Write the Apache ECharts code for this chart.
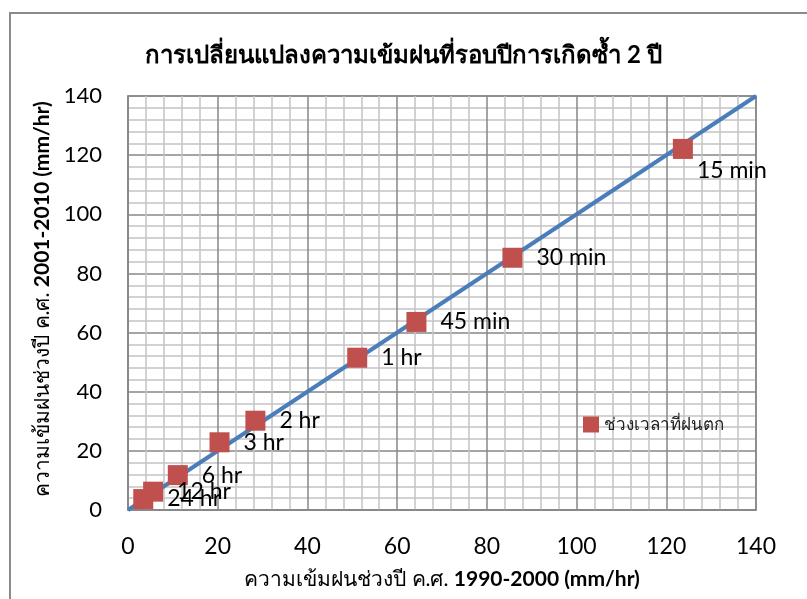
<!DOCTYPE html>
<html>
<head>
<meta charset="utf-8">
<script src="https://cdn.jsdelivr.net/npm/echarts@6/dist/echarts.min.js"></script>
<style>
  html, body { margin: 0; padding: 0; background: #fff; }
  #chart { width: 807px; height: 599px; }
</style>
</head>
<body>
<div id="chart"></div>
<script>
// Rainfall duration labels and intensities (mm/hr) for the two periods
const durations = ['15 min', '30 min', '45 min', '1 hr', '2 hr', '3 hr', '6 hr', '12 hr', '24 hr'];
const period1990_2000 = [123.7, 85.7, 64.3, 51.1, 28.4, 20.4, 11.1, 5.6, 3.4];
const period2001_2010 = [122.1, 85.3, 63.6, 51.5, 30.2, 22.9, 11.8, 6.2, 3.7];

// 1:1 reference line end points
const refLineX = [0, 140];
const refLineY = [0, 140];

const axisTicks = [0, 20, 40, 60, 80, 100, 120, 140];

const titleText = 'การเปลี่ยนแปลงความเข้มฝนที่รอบปีการเกิดซ้ำ 2 ปี';
const legendName = 'ช่วงเวลาที่ฝนตก';

const latin = 'Lato, "Open Sans", sans-serif';

const scatterData = durations.map((d, i) => {
  const item = { name: d, value: [period1990_2000[i], period2001_2010[i]] };
  if (d === '15 min') {
    item.label = { offset: [-10, 22] };
  }
  return item;
});

const lineData = refLineX.map((x, i) => [x, refLineY[i]]);

const majorLine = { show: true, lineStyle: { color: '#878787', width: 1.5 } };
const minorLine = { show: true, lineStyle: { color: '#c3c3c3', width: 1.5 } };

function axisCommon(extra) {
  return Object.assign({
    type: 'value',
    min: axisTicks[0],
    max: axisTicks[axisTicks.length - 1],
    interval: axisTicks[1] - axisTicks[0],
    axisLine: { show: true, onZero: false, lineStyle: { color: '#878787', width: 1.5 } },
    axisTick: { show: false },
    minorTick: { show: false, splitNumber: 5 },
    splitLine: majorLine,
    minorSplitLine: minorLine
  }, extra);
}

const nameRich = {
  n: { fontSize: 21, color: '#000', fontFamily: latin },
  b: { fontSize: 21, fontWeight: 'bold', color: '#000', fontFamily: latin }
};

const chart = echarts.init(document.getElementById('chart'), null, { renderer: 'canvas' });

chart.setOption({
  backgroundColor: '#ffffff',
  animation: false,
  title: {
    text: titleText,
    left: 'center',
    top: 38,
    textStyle: { fontSize: 24, fontWeight: 'bold', color: '#000', fontFamily: latin }
  },
  grid: {
    left: 128, top: 96, right: 51, bottom: 89,
    show: true, borderColor: '#878787', borderWidth: 1.5, backgroundColor: '#fff'
  },
  legend: {
    data: [legendName],
    left: 578, top: 411,
    icon: 'rect', itemWidth: 16, itemHeight: 16, itemGap: 4,
    textStyle: { fontSize: 17, color: '#222', fontFamily: latin }
  },
  graphic: [{
    type: 'rect',
    shape: { x: 10, y: 13, width: 820, height: 620 },
    style: { fill: 'none', stroke: '#8a8a8a', lineWidth: 2 },
    silent: true,
    z: 100
  }],
  xAxis: axisCommon({
    name: '{n|ความเข้มฝนช่วงปี ค.ศ. }{b|1990-2000 (mm/hr)}',
    nameLocation: 'middle',
    nameGap: 59,
    nameTextStyle: { rich: nameRich },
    axisLabel: { margin: 25, fontSize: 23, color: '#000', fontFamily: latin }
  }),
  yAxis: axisCommon({
    name: '{n|ความเข้มฝนช่วงปี ค.ศ. }{b|2001-2010 (mm/hr)}',
    nameLocation: 'middle',
    nameGap: 64,
    nameTextStyle: {
      padding: [0, 0, 0, 8],
      rich: nameRich
    },
    axisLabel: { margin: 26, fontSize: 22, color: '#000', fontFamily: latin }
  }),
  series: [
    {
      name: '1:1',
      type: 'line',
      data: lineData,
      symbol: 'none',
      lineStyle: { color: '#4a7ebb', width: 4 },
      z: 2
    },
    {
      name: legendName,
      type: 'scatter',
      data: scatterData,
      symbol: 'rect',
      symbolSize: 20,
      itemStyle: { color: '#c0504d', opacity: 1 },
      label: {
        show: true,
        position: 'right',
        distance: 14,
        formatter: p => p.name,
        fontSize: 23,
        color: '#000',
        fontFamily: latin
      },
      z: 3
    }
  ]
});
</script>
</body>
</html>
